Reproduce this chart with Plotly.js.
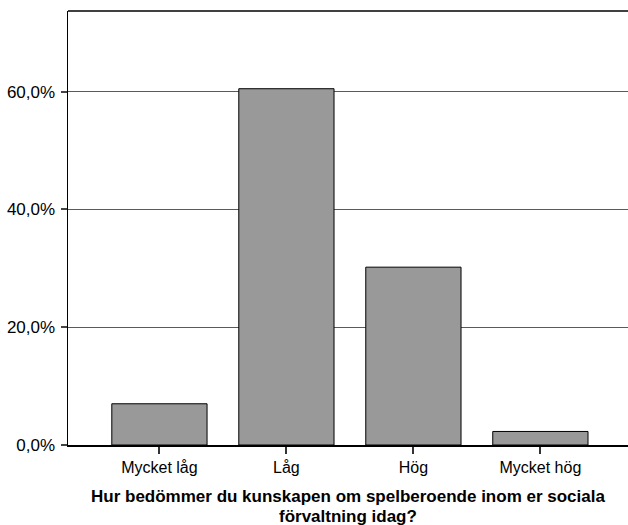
<!DOCTYPE html>
<html>
<head>
<meta charset="utf-8">
<script src="https://cdn.plot.ly/plotly-3.0.1.min.js"></script>
<style>
  html, body { margin: 0; padding: 0; background: #fff; }
  #chart { width: 628px; height: 525px; }
</style>
</head>
<body>
<div id="chart"></div>
<script>
// Data
let categories = ["Mycket låg", "Låg", "Hög", "Mycket hög"]
let percent    = [7.0, 60.5, 30.2, 2.3]
let yTicks     = [0, 20, 40, 60]
let yTickText  = ["0,0%", "20,0%", "40,0%", "60,0%"]
let titleLines = ["Hur bedömmer du kunskapen om spelberoende inom er sociala", "förvaltning idag?"]

let font = "Liberation Sans, Arial, sans-serif"

let trace = {
    x: categories,
    y: percent,
    type: 'bar',
    marker: { color: '#999999', line: { color: '#000000', width: 1 } },
    hoverinfo: 'none'
};

let layout = {
    width: 628,
    height: 525,
    margin: { l: 68, r: 0, t: 11, b: 80 },
    paper_bgcolor: '#ffffff',
    plot_bgcolor: '#ffffff',
    bargap: 0.25,
    showlegend: false,
    font: { family: font, size: 16, color: '#000000' },
    xaxis: {
        type: 'category',
        range: [-0.72, 3.69],
        showline: true, linecolor: '#000000', linewidth: 1.5,
        ticks: 'outside', ticklen: 7, tickwidth: 2, tickcolor: '#333333',
        showgrid: false, zeroline: false,
        tickfont: { family: font, size: 16 }
    },
    yaxis: {
        range: [0, 73.7],
        tickvals: yTicks,
        ticktext: yTickText,
        showline: true, linecolor: '#000000', linewidth: 1.5,
        ticks: 'outside', ticklen: 6, tickwidth: 2, tickcolor: '#444444',
        ticklabelstandoff: 2,
        showgrid: true, gridcolor: '#5a5a5a', gridwidth: 1.3,
        zeroline: false,
        tickfont: { family: font, size: 17 }
    },
    shapes: [
        // top frame line
        { type: 'line', xref: 'paper', yref: 'paper', x0: 0, x1: 1, y0: 1, y1: 1,
          line: { color: '#000000', width: 1.5 } }
    ],
    annotations: titleLines.map((t, i) => ({
        text: '<b>' + t + '</b>',
        xref: 'paper', yref: 'paper', x: 0.5, y: 0,
        xanchor: 'center', yanchor: 'middle',
        yshift: -51 - i * 20,
        borderpad: 0,
        showarrow: false,
        font: { family: font, size: 17, color: '#000000' }
    }))
};

Plotly.newPlot('chart', [trace], layout, { staticPlot: true, displayModeBar: false });
</script>
</body>
</html>
